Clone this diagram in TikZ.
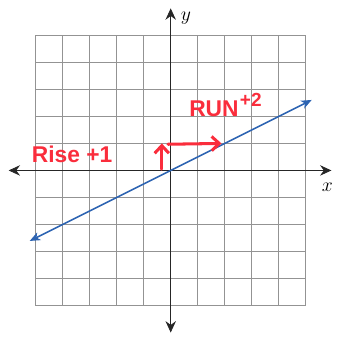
\documentclass[tikz,border=0pt]{standalone}
\usepackage{fontspec}
\newfontfamily\handfont{Liberation Sans}
\usetikzlibrary{arrows.meta}
\definecolor{lineblue}{RGB}{45,100,178}
\definecolor{penred}{RGB}{250,45,60}
\tikzset{
  gridline/.style={draw=gray!85, line width=0.6pt},
  axisline/.style={draw=black!85, line width=0.9pt, {Stealth[length=12pt,width=11pt,inset=4pt]}-{Stealth[length=12pt,width=11pt,inset=4pt]}},
  slopeline/.style={draw=lineblue, line width=1.6pt, {Stealth[length=11pt,width=9pt,inset=3pt]}-{Stealth[length=11pt,width=9pt,inset=3pt]}},
  penline/.style={draw=penred, line width=3.2pt, line cap=round, line join=round, -{Straight Barb[length=8pt,width=15pt]}},
  pentext/.style={text=penred, font=\handfont\bfseries\fontsize{24}{26}\selectfont, inner sep=0pt},
  axislabel/.style={font=\fontsize{20}{22}\selectfont, inner sep=0pt}
}
\begin{document}
\begin{tikzpicture}
\useasboundingbox (-6.32,-6.24) rectangle (6.12,6.31);
\draw[gridline] (-5,-5) grid (5,5);

\coordinate (xl) at (-6.0,0);
\coordinate (xr) at (5.95,0);
\coordinate (yb) at (0,-6.0);
\coordinate (yt) at (0,6.0);
\draw[axisline] (xl)--(xr);
\draw[axisline] (yb)--(yt);
\node[axislabel] (ylab) at (0.56,5.65) {$y$};
\node[axislabel] (xlab) at (5.8,-0.62) {$x$};

\coordinate (lo) at (-5.22,-2.61);
\coordinate (hi) at (5.22,2.61);
\draw[slopeline] (lo)--(hi);

\coordinate (rise0) at (-0.33,0.05);
\coordinate (rise1) at (-0.33,1.0);
\coordinate (run1) at (1.88,1.0);
\draw[penline] (rise0)--(rise1);
\draw[penline] (-0.1,0.97)--(run1);

\node[pentext] (rise) at (-3.65,0.58) {Rise +1};
\node[pentext] (run) at (1.6,2.3) {RUN};
\node[pentext, anchor=west, font=\handfont\bfseries\fontsize{20}{22}\selectfont] (runval) at ([xshift=1pt,yshift=9pt]run.east) {+2};
\end{tikzpicture}
\end{document}
